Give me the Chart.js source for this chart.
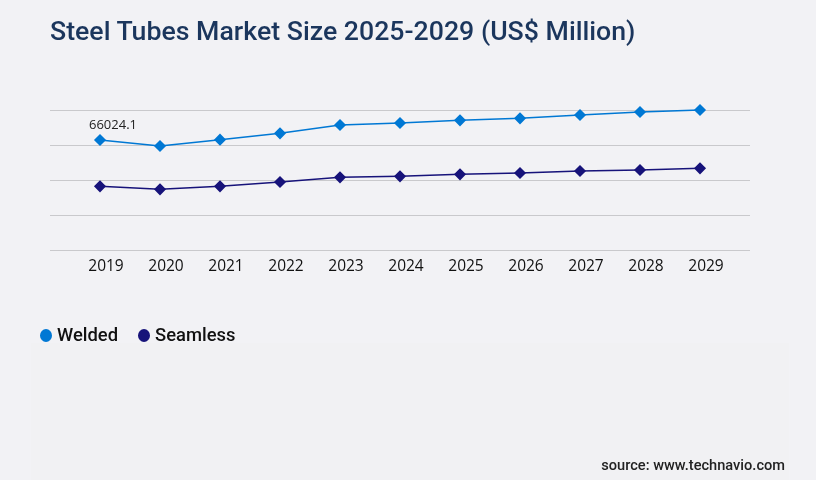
<!DOCTYPE html>
<html>
<head>
<meta charset="utf-8">
<script src="https://cdn.jsdelivr.net/npm/chart.js@4"></script>
<style>
  html, body { margin: 0; padding: 0; }
  body { width: 816px; height: 480px; background: #f2f2f5; position: relative; overflow: hidden; font-family: Roboto, sans-serif; }
  #panel { position: absolute; left: 31px; top: 343px; width: 758px; height: 137px; background: #f1f1f3; }
  #title { position: absolute; left: 50px; top: 14px; font-size: 26.7px; font-weight: 500; color: #1b365d; line-height: 34px; white-space: nowrap; }
  #legend { position: absolute; left: 40px; top: 323px; font-size: 18.4px; font-weight: 500; color: #111; line-height: 24px; white-space: nowrap; }
  #legend span.item { display: inline-block; margin-right: 20px; }
  #legend span.dot { display: inline-block; width: 12px; height: 13px; border-radius: 50%; margin-right: 5px; vertical-align: -1px; }
  #source { position: absolute; right: 31px; top: 455px; font-size: 14.6px; font-weight: 500; color: #222; line-height: 20px; }
  #wrap { position: absolute; left: 0; top: 0; width: 816px; height: 480px; }
</style>
</head>
<body>
<div id="panel"></div>
<div id="wrap"><canvas id="steelChart"></canvas></div>
<div id="title">Steel Tubes Market Size 2025-2029 (US$ Million)</div>
<div id="legend"></div>
<div id="source">source: www.technavio.com</div>

<script>
// data (US$ million)
const years = [2019, 2020, 2021, 2022, 2023, 2024, 2025, 2026, 2027, 2028, 2029];
const welded = [66024.1, 62400, 66200, 70000, 75000, 76200, 77800, 79000, 81000, 82800, 84000];
const seamless = [38200, 36400, 38200, 40800, 43600, 44200, 45400, 46200, 47400, 48000, 49000];

const seriesNames = ["Welded", "Seamless"];
const seriesColors = ["#0078d4", "#17137a"];

// legend in html
const legendBox = document.getElementById("legend");
seriesNames.forEach((name, i) => {
    legendBox.innerHTML += '<span class="item"><span class="dot" style="background:' + seriesColors[i] + '"></span>' + name + '</span>';
});

const toPoints = (vals) => vals.map((v, i) => ({ x: years[i], y: v }));

// only the first welded value is labelled
const firstLabel = {
    id: "firstLabel",
    afterDatasetsDraw(chart) {
        const pt = chart.getDatasetMeta(0).data[0];
        const ctx = chart.ctx;
        ctx.save();
        ctx.font = "13px 'Open Sans'";
        ctx.fillStyle = "#222";
        ctx.textAlign = "center";
        ctx.textBaseline = "middle";
        ctx.fillText(String(welded[0]), pt.x + 13, pt.y - 15);
        ctx.restore();
    }
};

new Chart("steelChart", {
    type: "line",
    data: {
        datasets: [
            {
                label: seriesNames[0],
                data: toPoints(welded),
                borderColor: seriesColors[0],
                backgroundColor: seriesColors[0],
                borderWidth: 1.5,
                pointStyle: "rectRot",
                pointRadius: 5,
                pointHoverRadius: 5,
                clip: false,
            },
            {
                label: seriesNames[1],
                data: toPoints(seamless),
                borderColor: seriesColors[1],
                backgroundColor: seriesColors[1],
                borderWidth: 1.5,
                pointStyle: "rectRot",
                pointRadius: 5,
                pointHoverRadius: 5,
                clip: false,
            }
        ]
    },
    options: {
        responsive: true,
        maintainAspectRatio: false,
        animation: false,
        layout: { padding: { left: 50, right: 66, top: 110, bottom: 200 } },
        plugins: {
            legend: { display: false },
            title: { display: false },
            tooltip: { enabled: false }
        },
        scales: {
            x: {
                type: "linear",
                min: 2018 + 1 / 6,
                max: 2029 + 5 / 6,
                grid: { display: false, drawTicks: false },
                border: { display: false },
                afterBuildTicks: (scale) => { scale.ticks = years.map(v => ({ value: v })); },
                afterFit: (scale) => { scale.height = 30; },
                ticks: {
                    padding: 7,
                    labelOffset: 6,
                    color: "#111",
                    font: { family: "'Open Sans'", size: 15.5 },
                    callback: (v) => String(v)
                }
            },
            y: {
                min: 0,
                max: 84000,
                grid: { color: "#c9c9cc", lineWidth: 1, drawTicks: false },
                border: { display: false },
                afterFit: (scale) => { scale.width = 0; },
                ticks: { display: false, stepSize: 21000 }
            }
        }
    },
    plugins: [firstLabel]
});
</script>
</body>
</html>
